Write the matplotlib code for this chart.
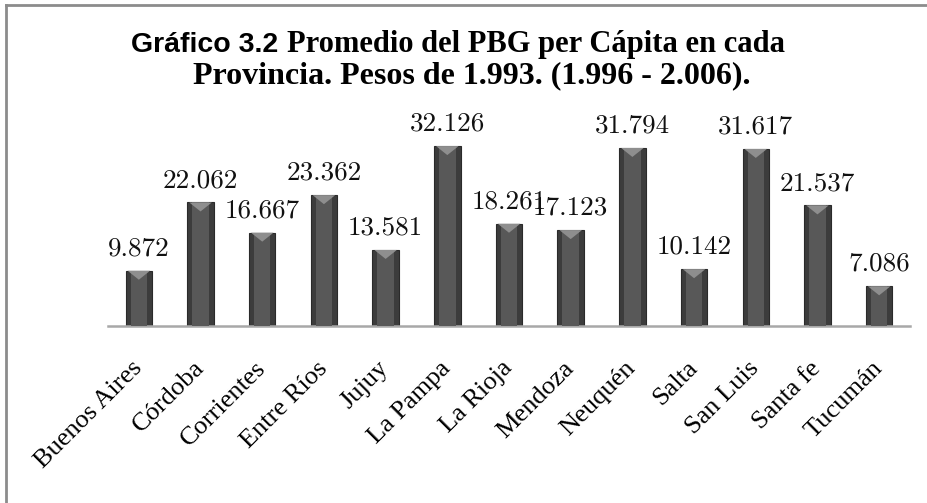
import matplotlib
matplotlib.use("Agg")
import matplotlib.pyplot as plt
from matplotlib.lines import Line2D
from matplotlib.patches import Polygon
import numpy as np

provinces = ["Buenos Aires", "Córdoba", "Corrientes", "Entre Ríos", "Jujuy",
             "La Pampa", "La Rioja", "Mendoza", "Neuquén", "Salta",
             "San Luis", "Santa fe", "Tucumán"]
pbg = [9.872, 22.062, 16.667, 23.362, 13.581, 32.126, 18.261, 17.123,
       31.794, 10.142, 31.617, 21.537, 7.086]
value_labels = ["9.872", "22.062", "16.667", "23.362", "13.581", "32.126",
                "18.261", "17.123", "31.794", "10.142", "31.617", "21.537", "7.086"]
title_a = "Gráfico 3.2"
title_b = "Promedio del PBG per Cápita en cada"
title_c = "Provincia. Pesos de 1.993. (1.996 - 2.006)."

W, H = 928, 503
fig = plt.figure(figsize=(W / 100, H / 100), dpi=100)
ax = fig.add_axes([108 / W, (H - 326) / H, (910 - 108) / W, 196 / H])

x = np.arange(len(provinces))
width = 0.43
ymax = 35.0
ax.set_xlim(-0.5, len(provinces) - 0.5)
ax.set_ylim(0, ymax)

# bars with a rough bevel look
ax.bar(x, pbg, width=width, color="#3c3c3c", edgecolor="#2a2a2a", linewidth=0.8, zorder=2)
ax.bar(x, pbg, width=width * 0.62, color="#585858", linewidth=0, zorder=3)
tri_h = 9 / 196 * ymax
for xi, v in zip(x, pbg):
    tri = Polygon([[xi - width / 2 * 0.85, v], [xi + width / 2 * 0.85, v], [xi, v - tri_h]],
                  closed=True, facecolor="#8e8e8e", edgecolor="none", zorder=4)
    ax.add_patch(tri)

for xi, v, lab in zip(x, pbg, value_labels):
    ax.annotate(lab, (xi, v), xytext=(0, 16), textcoords="offset points",
                ha="center", va="center", fontsize=19.5, family="cmr10", color="#111111")

ax.set_xticks(x)
ax.set_xticklabels(provinces, rotation=45, ha="right", va="center", rotation_mode="anchor",
                   fontsize=19, family="Liberation Serif")
ax.tick_params(axis="x", length=0, pad=28)
ax.set_yticks([])
for s in ["top", "left", "right"]:
    ax.spines[s].set_visible(False)
ax.spines["bottom"].set_color("#a8a8a8")
ax.spines["bottom"].set_linewidth(1.8)

# outer frame (only top and left edges visible)
fig.add_artist(Line2D([6 / W, 1], [1 - 5 / H, 1 - 5 / H], color="#8c8c8c", lw=2))
fig.add_artist(Line2D([6 / W, 6 / W], [0, 1 - 5 / H], color="#8c8c8c", lw=2))

# two-part title
r = fig.canvas.get_renderer()
y1 = 1 - 52 / H
t1 = fig.text(0, y1, title_a, family="Liberation Sans", weight="bold", fontsize=20.5, va="baseline")
t2 = fig.text(0, y1, title_b, family="Liberation Serif", weight="bold", fontsize=22, va="baseline")
w1 = t1.get_window_extent(r).width
w2 = t2.get_window_extent(r).width
gap = 8
start = 458 - (w1 + gap + w2) / 2
t1.set_x(start / W)
t2.set_x((start + w1 + gap) / W)
fig.text(472 / W, 1 - 83 / H, title_c, family="Liberation Serif", weight="bold",
         fontsize=23, ha="center", va="baseline")

fig.savefig("out.png", dpi=100)
